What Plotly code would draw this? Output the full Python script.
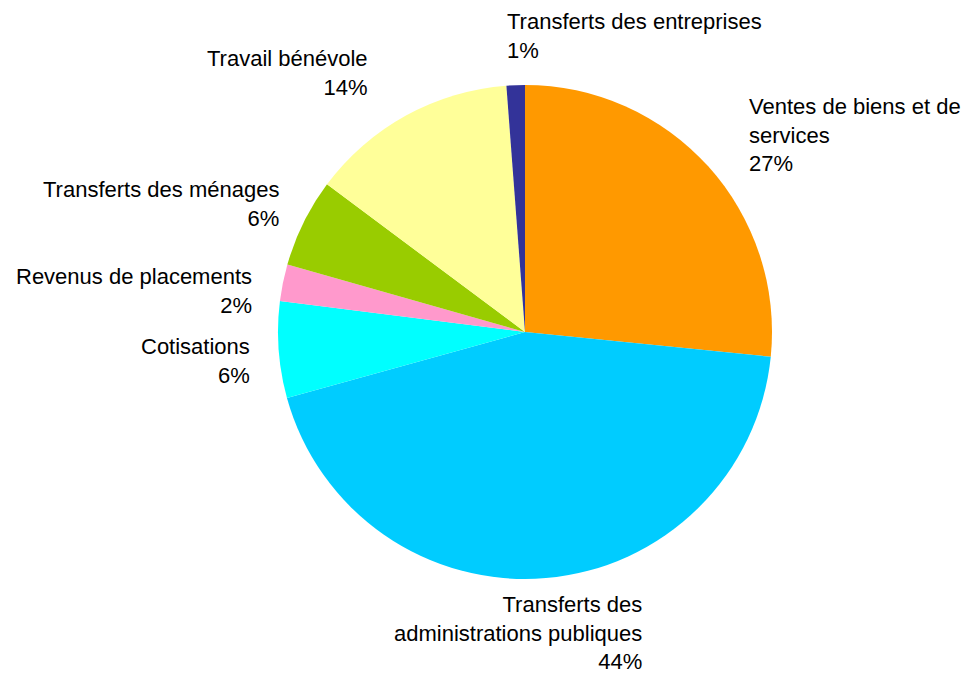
import plotly.graph_objects as go

# slices, clockwise from 12 o'clock
categories = [
    "Ventes de biens et de<br>services",
    "Transferts des<br>administrations publiques",
    "Cotisations",
    "Revenus de placements",
    "Transferts des ménages",
    "Travail bénévole",
    "Transferts des entreprises",
]
values = [26.6, 44.1, 6.3, 2.4, 5.8, 13.6, 1.2]
colors = ["#FF9900", "#00CCFF", "#00FFFF", "#FF99CC", "#99CC00", "#FFFF99", "#333399"]

W, H = 965, 675

# label placement in pixels: (x, y_center, anchor)
labelPos = [
    (747, 135, "left"),
    (644, 633, "right"),
    (252, 361, "right"),
    (254, 291, "right"),
    (281, 204, "right"),
    (370, 73, "right"),
    (505, 36, "left"),
]


def pieLabels():
    total = sum(values)
    annots = []
    for name, v, (px, py, anchor) in zip(categories, values, labelPos):
        annots.append(dict(
            x=px / W, y=1 - py / H,
            xref="paper", yref="paper",
            xanchor=anchor, yanchor="middle", align=anchor,
            text="%s<br>%d%%" % (name, round(100 * v / total)),
            showarrow=False,
            font=dict(family="Liberation Sans", size=22, color="black"),
        ))
    return annots


fig = go.Figure(go.Pie(
    labels=categories,
    values=values,
    sort=False,
    direction="clockwise",
    rotation=0,
    marker=dict(colors=colors, line=dict(width=0)),
    textinfo="none",
    hoverinfo="label+percent",
    domain=dict(x=[278 / W, 772 / W], y=[1 - 579 / H, 1 - 85 / H]),
    showlegend=False,
))

fig.update_layout(
    width=W, height=H,
    margin=dict(l=0, r=0, t=0, b=0),
    paper_bgcolor="white",
    plot_bgcolor="white",
    annotations=pieLabels(),
)

# drop the default body margin so the figure sits at the page corner
fig.write_html("out.html", config={"displayModeBar": False},
               post_script="document.body.style.margin='0';")
